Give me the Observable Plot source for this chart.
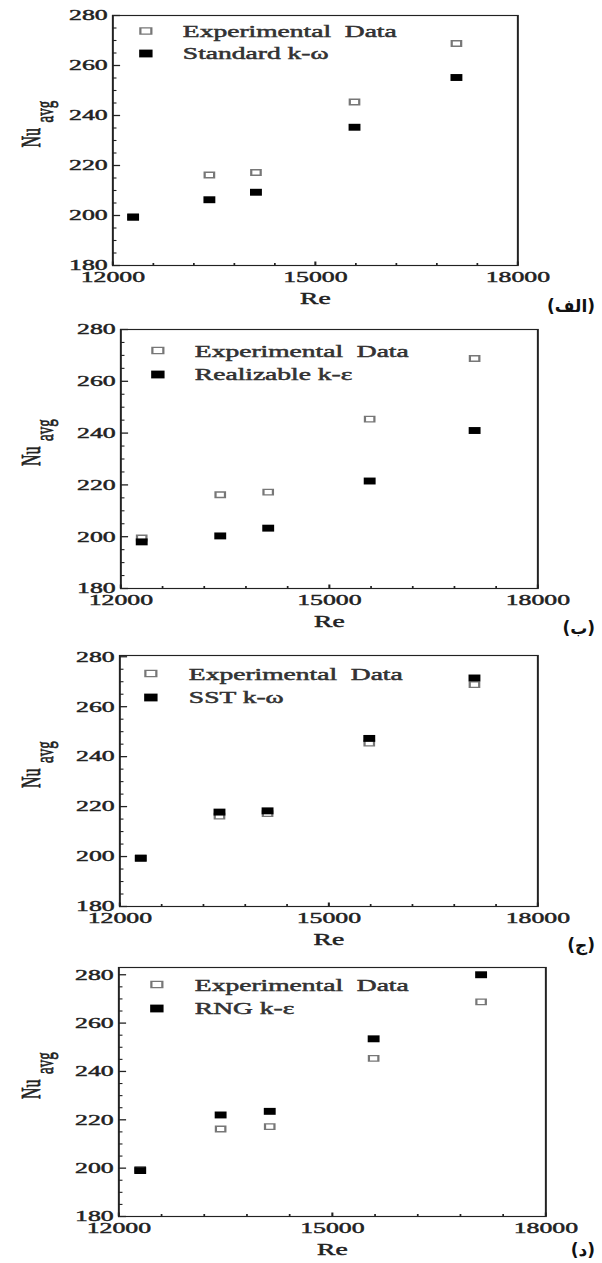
<!DOCTYPE html>
<html>
<head>
<meta charset="utf-8">
<script src="https://cdn.jsdelivr.net/npm/d3@7"></script>
<script src="https://cdn.jsdelivr.net/npm/@observablehq/plot@0.6"></script>
<style>
html, body { margin: 0; padding: 0; background: #fff; }
#fig { position: relative; width: 602px; height: 1263px; overflow: hidden; background: #fff; }
#fig svg text { stroke: currentColor; stroke-width: 0.45px; paint-order: stroke; }
.tag { position: absolute; right: 7px; font-family: "DejaVu Sans", sans-serif; font-weight: bold; font-size: 17px; line-height: 20px; color: #111; direction: rtl; }
</style>
</head>
<body>
<div id="fig"></div>
<script>
// ---- data ----
const re = [12300, 13430, 14120, 15580, 17090];
const experimental = [199.5, 216.2, 217.2, 245.4, 268.8];
const standardKOmega = [199.3, 206.3, 209.3, 235.3, 255.2];
const realizableKEps = [198.0, 200.3, 203.3, 221.5, 241.0];
const sstKOmega = [199.3, 217.8, 218.3, 247.3, 271.5];
const rngKEps = [199.0, 222.0, 223.5, 253.5, 280.0];
const experimentalLabel = "Experimental  Data";
const modelLabels = ["Standard k-ω", "Realizable k-ε", "SST k-ω", "RNG k-ε"];
const panelTags = ["(الف)", "(ب)", "(ج)", "(د)"];
const xTicks = [12000, 15000, 18000];
const xMinorTicks = [12600, 13200, 13800, 14400, 15600, 16200, 16800, 17400];
const yTicks = [180, 200, 220, 240, 260, 280];
const yMinorTicks = [185, 190, 195, 205, 210, 215, 225, 230, 235, 245, 250, 255, 265, 270, 275];
const xLabel = "Re";
const yLabelMain = "Nu";
const yLabelSub = "avg";

const models = [standardKOmega, realizableKEps, sstKOmega, rngKEps];

// ---- layout (final pixel positions of each frame) ----
const S = 1.72; // the figure is stretched horizontally
const FIGW = 602;
const layout = [
  {left: 112, right: 517, top: 15,  bottom: 265,  yMax: 280,   leg: {mx: 33, my1: 15.5, my2: 38, tx: 70}, tagY: 306},
  {left: 120, right: 537, top: 329, bottom: 588,  yMax: 280,   leg: {mx: 37, my1: 21,   my2: 45, tx: 74}, tagY: 628},
  {left: 119, right: 537, top: 655, bottom: 906,  yMax: 280.5, leg: {mx: 31, my1: 18,   my2: 42, tx: 69}, tagY: 945},
  {left: 118, right: 545, top: 967, bottom: 1216, yMax: 283,   leg: {mx: 38, my1: 17,   my2: 41, tx: 76}, tagY: 1250}
];

const fig = document.getElementById("fig");

layout.forEach((cfg, i) => {
  const mt = 10, mb = 48;
  const W = FIGW / S;
  const H = (cfg.bottom - cfg.top) + mt + mb;
  const rows = re.map((r, j) => ({re: r, exp: experimental[j], model: models[i][j]}));

  const svg = Plot.plot({
    width: W,
    height: H,
    marginLeft: cfg.left / S,
    marginRight: (FIGW - cfg.right) / S,
    marginTop: mt,
    marginBottom: mb,
    x: {domain: [12000, 18000]},
    y: {domain: [180, cfg.yMax]},
    style: {
      fontFamily: "'Liberation Serif', 'Times New Roman', serif",
      fontSize: "15px",
      color: "#222",
      background: "transparent",
      overflow: "visible"
    },
    marks: [
      Plot.frame({stroke: "#222", strokeWidth: 1.15}),
      Plot.axisX(xTicks, {anchor: "bottom", tickSize: -3.5, tickPadding: 9.5, strokeWidth: 1.2,
        tickFormat: d => String(d), label: null, fontSize: 15}),
      Plot.axisX(xMinorTicks, {anchor: "bottom", tickSize: -2, strokeWidth: 1,
        tickFormat: () => "", label: null}),
      Plot.axisY(yTicks, {anchor: "left", tickSize: -4.7, tickPadding: 7.7, strokeWidth: 1.3,
        tickFormat: d => String(d), label: null, fontSize: 15}),
      Plot.axisY(yMinorTicks, {anchor: "left", tickSize: -2.6, strokeWidth: 1.1,
        tickFormat: () => "", label: null}),
      // data
      Plot.dot(rows, {x: "re", y: "exp", symbol: "square", r: 3.1, stroke: "#777", strokeWidth: 1.3, fill: "white"}),
      Plot.dot(rows, {x: "re", y: "model", symbol: "square", r: 3.9, fill: "#000", stroke: "none"}),
      // legend
      Plot.dot([experimentalLabel], {frameAnchor: "top-left", dx: cfg.leg.mx / S, dy: cfg.leg.my1,
        symbol: "square", r: 3.6, stroke: "#777", strokeWidth: 1.3, fill: "white"}),
      Plot.dot([modelLabels[i]], {frameAnchor: "top-left", dx: cfg.leg.mx / S, dy: cfg.leg.my2,
        symbol: "square", r: 4.4, fill: "#000", stroke: "none"}),
      Plot.text([experimentalLabel], {frameAnchor: "top-left", dx: cfg.leg.tx / S, dy: cfg.leg.my1 + 1,
        text: d => d, textAnchor: "start", lineAnchor: "middle", fill: "#333", fontSize: 16}),
      Plot.text([modelLabels[i]], {frameAnchor: "top-left", dx: cfg.leg.tx / S, dy: cfg.leg.my2,
        text: d => d, textAnchor: "start", lineAnchor: "middle", fill: "#333", fontSize: 16}),
      // axis titles
      Plot.text([xLabel], {frameAnchor: "bottom", dy: 33, text: d => d, lineAnchor: "middle",
        fill: "#222", fontSize: 16}),
      Plot.text([yLabelMain], {frameAnchor: "left", rotate: -90, dx: (30 - cfg.left) / S, dy: 7,
        text: d => d, lineAnchor: "middle", fill: "#222", fontSize: 16}),
      Plot.text([yLabelSub], {frameAnchor: "left", rotate: -90, dx: (44 - cfg.left) / S, dy: -18,
        text: d => d, lineAnchor: "middle", fill: "#222", fontSize: 15})
    ]
  });

  svg.setAttribute("width", FIGW);
  svg.setAttribute("height", H);
  svg.setAttribute("preserveAspectRatio", "none");
  svg.style.position = "absolute";
  svg.style.left = "0px";
  svg.style.top = (cfg.top - mt) + "px";
  svg.style.width = FIGW + "px";
  svg.style.height = H + "px";
  svg.style.maxWidth = "none";
  fig.appendChild(svg);

  const tag = document.createElement("div");
  tag.className = "tag";
  tag.textContent = panelTags[i];
  tag.style.top = (cfg.tagY - 10) + "px";
  fig.appendChild(tag);
});
</script>
</body>
</html>
